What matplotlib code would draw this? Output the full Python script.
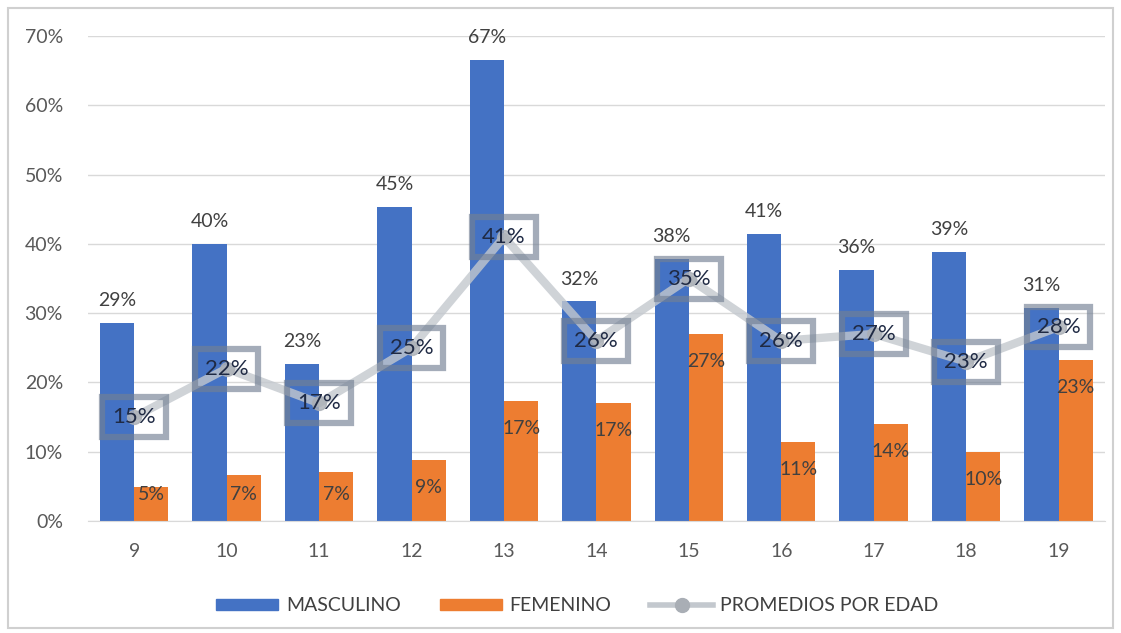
import matplotlib.pyplot as plt
from matplotlib.lines import Line2D
from matplotlib.patches import Patch, Rectangle
from matplotlib.ticker import PercentFormatter

plt.rcParams['font.family'] = ['Lato', 'DejaVu Sans']

edades = ['9', '10', '11', '12', '13', '14', '15', '16', '17', '18', '19']
masculino = [28.6, 40.0, 22.7, 45.3, 66.6, 31.7, 37.8, 41.4, 36.3, 38.8, 30.7]
femenino = [4.9, 6.6, 7.1, 8.8, 17.3, 17.0, 27.0, 11.4, 14.0, 10.0, 23.2]
promedios = [15, 22, 17, 25, 41, 26, 35, 26, 27, 23, 28]

azul = '#4472c4'
naranja = '#ed7d31'
gris = '#c3c8ce'
texto = '#404040'

fig = plt.figure(figsize=(11.21, 6.33), dpi=100)
ax = fig.add_axes([0.0785, 0.177, 0.907, 0.766])

# marco del grafico
fig.patches.append(Rectangle((0.007, 0.008), 0.986, 0.979, transform=fig.transFigure,
                             fill=False, edgecolor='#d0d0d0', linewidth=1.5))

x = list(range(len(edades)))
w = 0.37
ax.bar([i - w / 2 for i in x], masculino, w, color=azul, zorder=2)
ax.bar([i + w / 2 for i in x], femenino, w, color=naranja, zorder=2)

ax.plot(x, promedios, color=gris, linewidth=6, alpha=0.8, marker='o',
        markersize=10, markerfacecolor='#a9aeb5', markeredgecolor='#a9aeb5', zorder=3)

for i in x:
    ax.text(i - w / 2, masculino[i] + 2.0, f'{round(masculino[i])}%', ha='center',
            va='bottom', fontsize=14, color=texto, zorder=5)
    ax.text(i + w / 2, max(femenino[i] - 4.0, 3.8), f'{round(femenino[i])}%', ha='center',
            va='center', fontsize=14, color=texto, zorder=5)
    ax.text(i, promedios[i], f'{promedios[i]}%', ha='center', va='center',
            fontsize=16, color='#1f2a44', zorder=6,
            bbox=dict(boxstyle='square,pad=0.45', facecolor='none',
                      edgecolor=(0.45, 0.5, 0.58, 0.65), linewidth=4.5))

ax.set_xlim(-0.5, len(edades) - 0.5)
ax.set_ylim(0, 70)
ax.set_yticks(range(0, 71, 10))
ax.yaxis.set_major_formatter(PercentFormatter(decimals=0))
ax.set_xticks(x)
ax.set_xticklabels(edades)
ax.tick_params(length=0, labelsize=14, labelcolor='#595959', pad=16)
ax.tick_params(axis='y', pad=18)
ax.grid(axis='y', color='#d9d9d9', linewidth=1, zorder=0)
for s in ['top', 'right', 'left']:
    ax.spines[s].set_visible(False)
ax.spines['bottom'].set_color('#d9d9d9')

handles = [Patch(color=azul), Patch(color=naranja),
           Line2D([], [], color=gris, linewidth=4, marker='o', markersize=10,
                  markerfacecolor='#a9aeb5', markeredgecolor='#a9aeb5')]
fig.legend(handles, ['MASCULINO', 'FEMENINO', 'PROMEDIOS POR EDAD'], loc='center',
           bbox_to_anchor=(0.515, 0.043), ncol=3, frameon=False, fontsize=14,
           labelcolor='#404040', handlelength=3.2, handleheight=0.5,
           columnspacing=2.0, handletextpad=0.4)

fig.savefig('out.png', dpi=100)
